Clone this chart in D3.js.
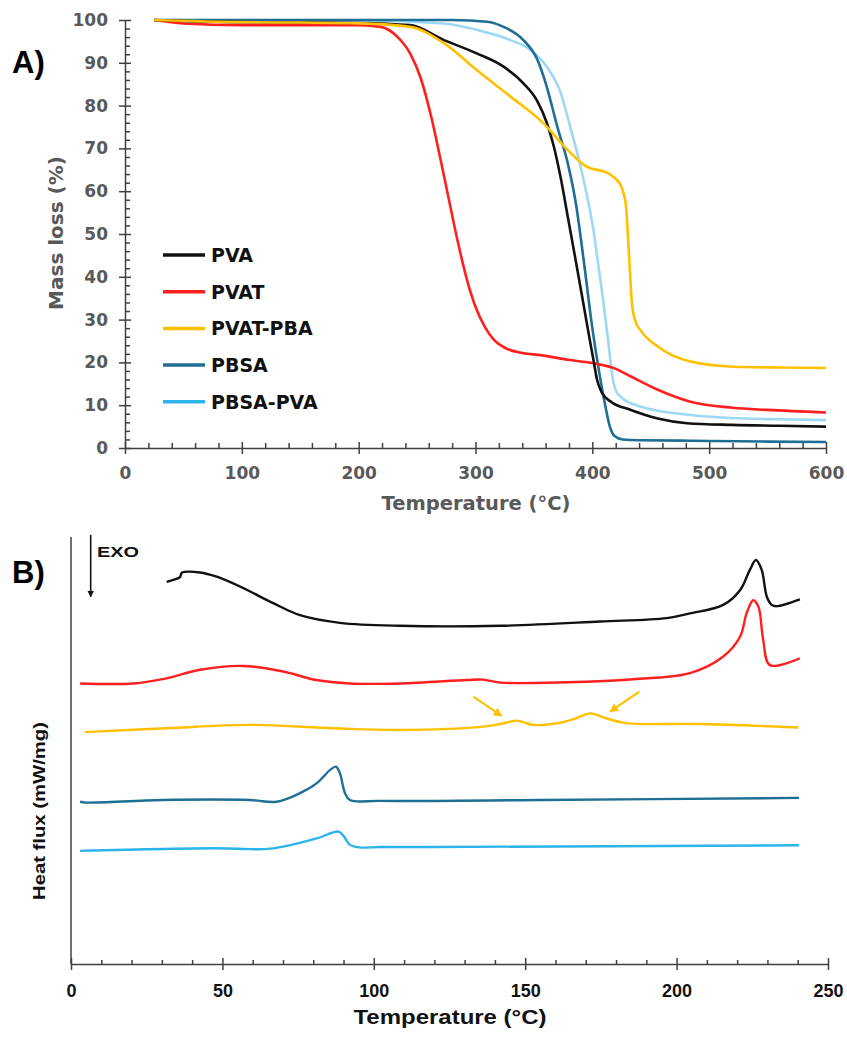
<!DOCTYPE html>
<html>
<head>
<meta charset="utf-8">
<script src="https://cdn.jsdelivr.net/npm/d3@7"></script>
<style>
    body { margin: 0; background: #fff; }
    svg { display: block; }
</style>
</head>
<body>
<div id="chart"></div>
<script>
// A) TGA: [temperature (°C), mass (%)]
var tgaPVA = [[25,100],[60,99.7],[100,99.5],[150,99.4],[200,99.3],[244,98.8],[273,95.3],[301,92.2],[324,89.1],
    [341,85.2],[353,81],[361,76],[367,70.5],[373,63],[379,54],[385,45],[391,35.8],[397,26.5],[401,20.5],[404,16],
    [408,13],[416,10.8],[433,8.9],[456,6.9],[481,5.8],[520,5.4],[560,5.2],[600,5.0]];
var tgaPVAT = [[25,100],[50,99.2],[100,98.8],[150,98.8],[201,98.8],[219,98.4],[233,96.1],[244,92.2],[253,86.5],
    [262,77.5],[270,67.5],[278,57],[285,48],[293,39],[300,33],[308,28.3],[316,25.2],[326,23.3],[340,22.2],
    [356,21.7],[379,20.6],[401,19.8],[419,18.6],[433,16.7],[456,13.6],[484,10.8],[520,9.4],[550,8.9],[600,8.3]];
var tgaPVATPBA = [[25,100],[100,99.5],[150,99.4],[201,99.2],[244,98.4],[273,94.6],[301,88.3],[330,82.1],[358,75.9],
    [379,69.6],[393,66.1],[416,63.8],[421,62.6],[424,61.5],[428.6,57],[431,47],[434,33.5],[437,29.5],[441,27.6],
    [456,23.7],[484,20.2],[521,19],[560,18.8],[600,18.7]];
var tgaPBSA = [[25,100],[100,100],[200,100],[280,100],[310,99.6],[324,98.4],[341,95.3],[353,90.7],[361,84.4],
    [370,75.1],[379,66.5],[386,57],[393,43],[400,28],[406,17.5],[411,10],[415,5],[419,2.8],[426,2.0],[440,1.8],
    [484,1.7],[550,1.5],[600,1.4]];
var tgaPBSAPVA = [[25,100],[100,99.9],[200,99.9],[273,99.2],[301,97.7],[330,95.3],[347,93],[361,89.1],[373,82.9],
    [381,75.1],[390,65.7],[395,59.5],[400,52.5],[405,43],[410,33],[414,24],[417,17],[420,13.5],[425,11.8],
    [441,9.7],[484,7.7],[520,7.0],[560,6.7],[600,6.5]];

// B) DSC: [temperature (°C), heat flux (arbitrary, stacked)]
var dscPVA = [[31.6,8.95],[34,9.0],[36,9.06],[36.6,9.16],[42.6,9.17],[48.1,9.07],[55.8,8.84],[66.8,8.45],[75.6,8.17],
    [88.8,7.99],[108.7,7.92],[141.7,7.92],[174.7,8.02],[196.7,8.10],[204.4,8.21],[215.4,8.41],[221,8.76],[224.2,9.23],
    [226.2,9.46],[228.1,9.23],[229.8,8.60],[231.4,8.41],[233,8.38],[240.7,8.54]];
var dscPVAT = [[3,6.57],[20.6,6.57],[31.6,6.69],[42.6,6.89],[56.9,6.98],[70.1,6.85],[81,6.65],[92,6.57],[108.6,6.57],
    [130.7,6.65],[136,6.66],[141.7,6.59],[163.7,6.60],[185.7,6.67],[204.4,6.81],[215.4,7.20],[221,7.67],[223.1,8.21],
    [225.3,8.52],[227,8.37],[228.6,7.59],[230.8,7.00],[240.7,7.16]];
var dscPVATPBA = [[4.6,5.43],[31.6,5.52],[59.1,5.60],[86.6,5.52],[108.6,5.48],[136.2,5.56],[141.7,5.62],[147.2,5.70],
    [149.5,5.66],[152.7,5.60],[161.5,5.65],[167,5.76],[171.4,5.87],[176.9,5.75],[183.5,5.64],[207.7,5.62],[240.2,5.54]];
var dscPBSA = [[3,3.80],[5,3.78],[30,3.84],[59.1,3.84],[67.9,3.80],[75.6,4.00],[81.1,4.23],[85.5,4.54],[87.5,4.62],
    [88.8,4.47],[90.5,4.00],[92.1,3.84],[102,3.82],[155,3.84],[240.4,3.89]];
var dscPBSAPVA = [[3,2.65],[48,2.71],[59.1,2.69],[64,2.69],[70.1,2.75],[81.1,2.94],[88.3,3.10],[90,3.00],[92.1,2.79],
    [95.3,2.73],[102,2.74],[119.3,2.74],[240.4,2.78]];

var seriesNames = ["PVA", "PVAT", "PVAT-PBA", "PBSA", "PBSA-PVA"];
var tgaTicksX = [0, 100, 200, 300, 400, 500, 600];
var tgaTicksY = [0, 10, 20, 30, 40, 50, 60, 70, 80, 90, 100];
var dscTicksX = [0, 50, 100, 150, 200, 250];

// yellow annotation arrows: [T from, value from, T to, value to]
var dscArrows = [[132.9, 6.26, 142.2, 5.81], [187.7, 6.38, 178, 5.91]];
// EXO arrow: [T, value top, value bottom]
var exoArrow = [6.5, 10.05, 8.6];

var colors = {"PVA": "#111111", "PVAT": "#ff1f1f", "PVAT-PBA": "#ffc000", "PBSA": "#1f6e96", "PBSA-PVA": "#2ab4ea"};
var tgaColors = Object.assign({}, colors, {"PBSA-PVA": "#9dd9f5"});

var tga = {"PVA": tgaPVA, "PVAT": tgaPVAT, "PVAT-PBA": tgaPVATPBA, "PBSA": tgaPBSA, "PBSA-PVA": tgaPBSAPVA};
var dsc = {"PVA": dscPVA, "PVAT": dscPVAT, "PVAT-PBA": dscPVATPBA, "PBSA": dscPBSA, "PBSA-PVA": dscPBSAPVA};

var topFont = "'DejaVu Sans', sans-serif";
var botFont = "'Liberation Sans', Arial, sans-serif";
var grey = "#595959";
var axisCol = "#404040";

var svg = d3.select("#chart")
    .append("svg")
    .attr("width", 847)
    .attr("height", 1039);

function styleAxis(g) {
    g.select(".domain").attr("stroke", axisCol).attr("stroke-width", 1.5);
    g.selectAll(".tick line").attr("stroke", axisCol).attr("stroke-width", 1.5);
}

// ---------- A) ----------
var xA = d3.scaleLinear().domain([0, 600]).range([125, 826]);
var yA = d3.scaleLinear().domain([0, 100]).range([448, 20]);

var gA = svg.append("g");

// minor ticks
gA.append("g")
    .attr("transform", "translate(0,448)")
    .call(d3.axisBottom(xA).tickValues(d3.range(0, 601, 20).filter(d => d % 100)).tickSize(-5).tickFormat(""))
    .call(g => g.select(".domain").remove())
    .call(styleAxis);
gA.append("g")
    .attr("transform", "translate(125,0)")
    .call(d3.axisLeft(yA).tickValues(d3.range(0, 101, 2).filter(d => d % 10)).tickSize(-5).tickFormat(""))
    .call(g => g.select(".domain").remove())
    .call(styleAxis);

var xAxisA = gA.append("g")
    .attr("transform", "translate(0,448)")
    .call(d3.axisBottom(xA).tickValues(tgaTicksX).tickSize(6).tickSizeOuter(0))
    .call(styleAxis);
xAxisA.selectAll(".tick line").attr("y1", -6);
xAxisA.selectAll(".tick text")
    .attr("y", 19)
    .attr("font-family", topFont).attr("font-size", 17).attr("font-weight", "bold")
    .attr("fill", grey);

var yAxisA = gA.append("g")
    .attr("transform", "translate(125,0)")
    .call(d3.axisLeft(yA).tickValues(tgaTicksY).tickSize(6).tickSizeOuter(0))
    .call(styleAxis);
yAxisA.selectAll(".tick line").attr("x1", 6);
yAxisA.selectAll(".tick text")
    .attr("x", -17)
    .attr("font-family", topFont).attr("font-size", 17).attr("font-weight", "bold")
    .attr("fill", grey);

gA.append("text")
    .attr("x", 476).attr("y", 510)
    .attr("text-anchor", "middle")
    .attr("font-family", topFont).attr("font-size", 19.5).attr("font-weight", "bold")
    .attr("fill", grey)
    .text("Temperature (°C)");

gA.append("text")
    .attr("transform", "translate(63,233) rotate(-90)")
    .attr("text-anchor", "middle")
    .attr("font-family", topFont).attr("font-size", 20).attr("font-weight", "bold")
    .attr("fill", grey)
    .text("Mass loss (%)");

var lineA = d3.line()
    .x(d => xA(d[0]))
    .y(d => yA(d[1]))
    .curve(d3.curveMonotoneX);

["PBSA-PVA", "PBSA", "PVAT", "PVA", "PVAT-PBA"].forEach(name => {
    gA.append("path")
        .datum(tga[name])
        .attr("fill", "none")
        .attr("stroke", tgaColors[name])
        .attr("stroke-width", 2.6)
        .attr("stroke-linejoin", "round")
        .attr("d", lineA);
});

// legend
var legend = gA.append("g").attr("transform", "translate(163,255)");
var rows = legend.selectAll("g.legendRow")
    .data(seriesNames)
    .enter().append("g")
    .attr("class", "legendRow")
    .attr("transform", (d, i) => "translate(0," + (i * 36.7) + ")");
rows.append("line")
    .attr("x1", 0).attr("x2", 42)
    .attr("stroke", d => colors[d])
    .attr("stroke-width", 3.5);
rows.append("text")
    .attr("x", 48).attr("dy", "0.36em")
    .attr("font-family", topFont).attr("font-size", 19).attr("font-weight", "bold")
    .attr("fill", "#111")
    .text(d => d);

svg.append("text")
    .attr("x", 12).attr("y", 73)
    .attr("font-family", botFont).attr("font-size", 31).attr("font-weight", "bold")
    .text("A)");

// ---------- B) ----------
var xB = d3.scaleLinear().domain([0, 250]).range([71, 828]);
var yB = d3.scaleLinear().domain([0, 10]).range([964, 537]);

var gB = svg.append("g");

gB.append("line")
    .attr("x1", 71).attr("x2", 71)
    .attr("y1", yB(10)).attr("y2", yB(0))
    .attr("stroke", axisCol).attr("stroke-width", 1.5);

gB.append("g")
    .attr("transform", "translate(0,964)")
    .call(d3.axisBottom(xB).tickValues(d3.range(0, 251, 10).filter(d => d % 50)).tickSize(-4).tickFormat(""))
    .call(g => g.select(".domain").remove())
    .call(styleAxis);

var xAxisB = gB.append("g")
    .attr("transform", "translate(0,964)")
    .call(d3.axisBottom(xB).tickValues(dscTicksX).tickSize(6).tickSizeOuter(0))
    .call(styleAxis);
xAxisB.selectAll(".tick line").attr("y1", -6);
xAxisB.selectAll(".tick text")
    .attr("y", 20)
    .attr("font-family", botFont).attr("font-size", 18).attr("font-weight", "bold")
    .attr("fill", "#111");

gB.append("text")
    .attr("x", 450).attr("y", 1024)
    .attr("text-anchor", "middle")
    .attr("font-family", botFont).attr("font-size", 21).attr("font-weight", "bold")
    .attr("textLength", 193).attr("lengthAdjust", "spacingAndGlyphs")
    .attr("fill", "#111")
    .text("Temperature (°C)");

gB.append("text")
    .attr("transform", "translate(45,811) rotate(-90)")
    .attr("text-anchor", "middle")
    .attr("font-family", botFont).attr("font-size", 16).attr("font-weight", "bold")
    .attr("textLength", 178).attr("lengthAdjust", "spacingAndGlyphs")
    .attr("fill", "#111")
    .text("Heat flux (mW/mg)");

var defs = svg.append("defs");
defs.append("marker")
    .attr("id", "headBlack")
    .attr("viewBox", "0 0 10 10").attr("refX", 9).attr("refY", 5)
    .attr("markerWidth", 4).attr("markerHeight", 4).attr("markerUnits", "strokeWidth")
    .attr("orient", "auto")
    .append("path").attr("d", "M0,0L10,5L0,10Z").attr("fill", "#111");
defs.append("marker")
    .attr("id", "headGold")
    .attr("viewBox", "0 0 10 10").attr("refX", 9).attr("refY", 5)
    .attr("markerWidth", 4).attr("markerHeight", 4).attr("markerUnits", "strokeWidth")
    .attr("orient", "auto")
    .append("path").attr("d", "M0,0L10,5L0,10Z").attr("fill", colors["PVAT-PBA"]);

gB.append("line")
    .attr("x1", xB(exoArrow[0])).attr("x2", xB(exoArrow[0]))
    .attr("y1", yB(exoArrow[1])).attr("y2", yB(exoArrow[2]))
    .attr("stroke", "#111").attr("stroke-width", 1.6)
    .attr("marker-end", "url(#headBlack)");
gB.append("text")
    .attr("x", 97).attr("y", 557)
    .attr("font-family", botFont).attr("font-size", 15).attr("font-weight", 600)
    .attr("textLength", 42).attr("lengthAdjust", "spacingAndGlyphs")
    .attr("fill", "#111")
    .text("EXO");

svg.append("text")
    .attr("x", 12).attr("y", 583)
    .attr("font-family", botFont).attr("font-size", 31).attr("font-weight", "bold")
    .text("B)");

var lineB = d3.line()
    .x(d => xB(d[0]))
    .y(d => yB(d[1]))
    .curve(d3.curveCatmullRom.alpha(0.5));

seriesNames.forEach(name => {
    gB.append("path")
        .datum(dsc[name])
        .attr("fill", "none")
        .attr("stroke", colors[name])
        .attr("stroke-width", 2.4)
        .attr("stroke-linejoin", "round")
        .attr("d", lineB);
});

gB.selectAll("line.note")
    .data(dscArrows)
    .enter().append("line")
    .attr("class", "note")
    .attr("x1", d => xB(d[0])).attr("y1", d => yB(d[1]))
    .attr("x2", d => xB(d[2])).attr("y2", d => yB(d[3]))
    .attr("stroke", colors["PVAT-PBA"]).attr("stroke-width", 2.2)
    .attr("marker-end", "url(#headGold)");
</script>
</body>
</html>
